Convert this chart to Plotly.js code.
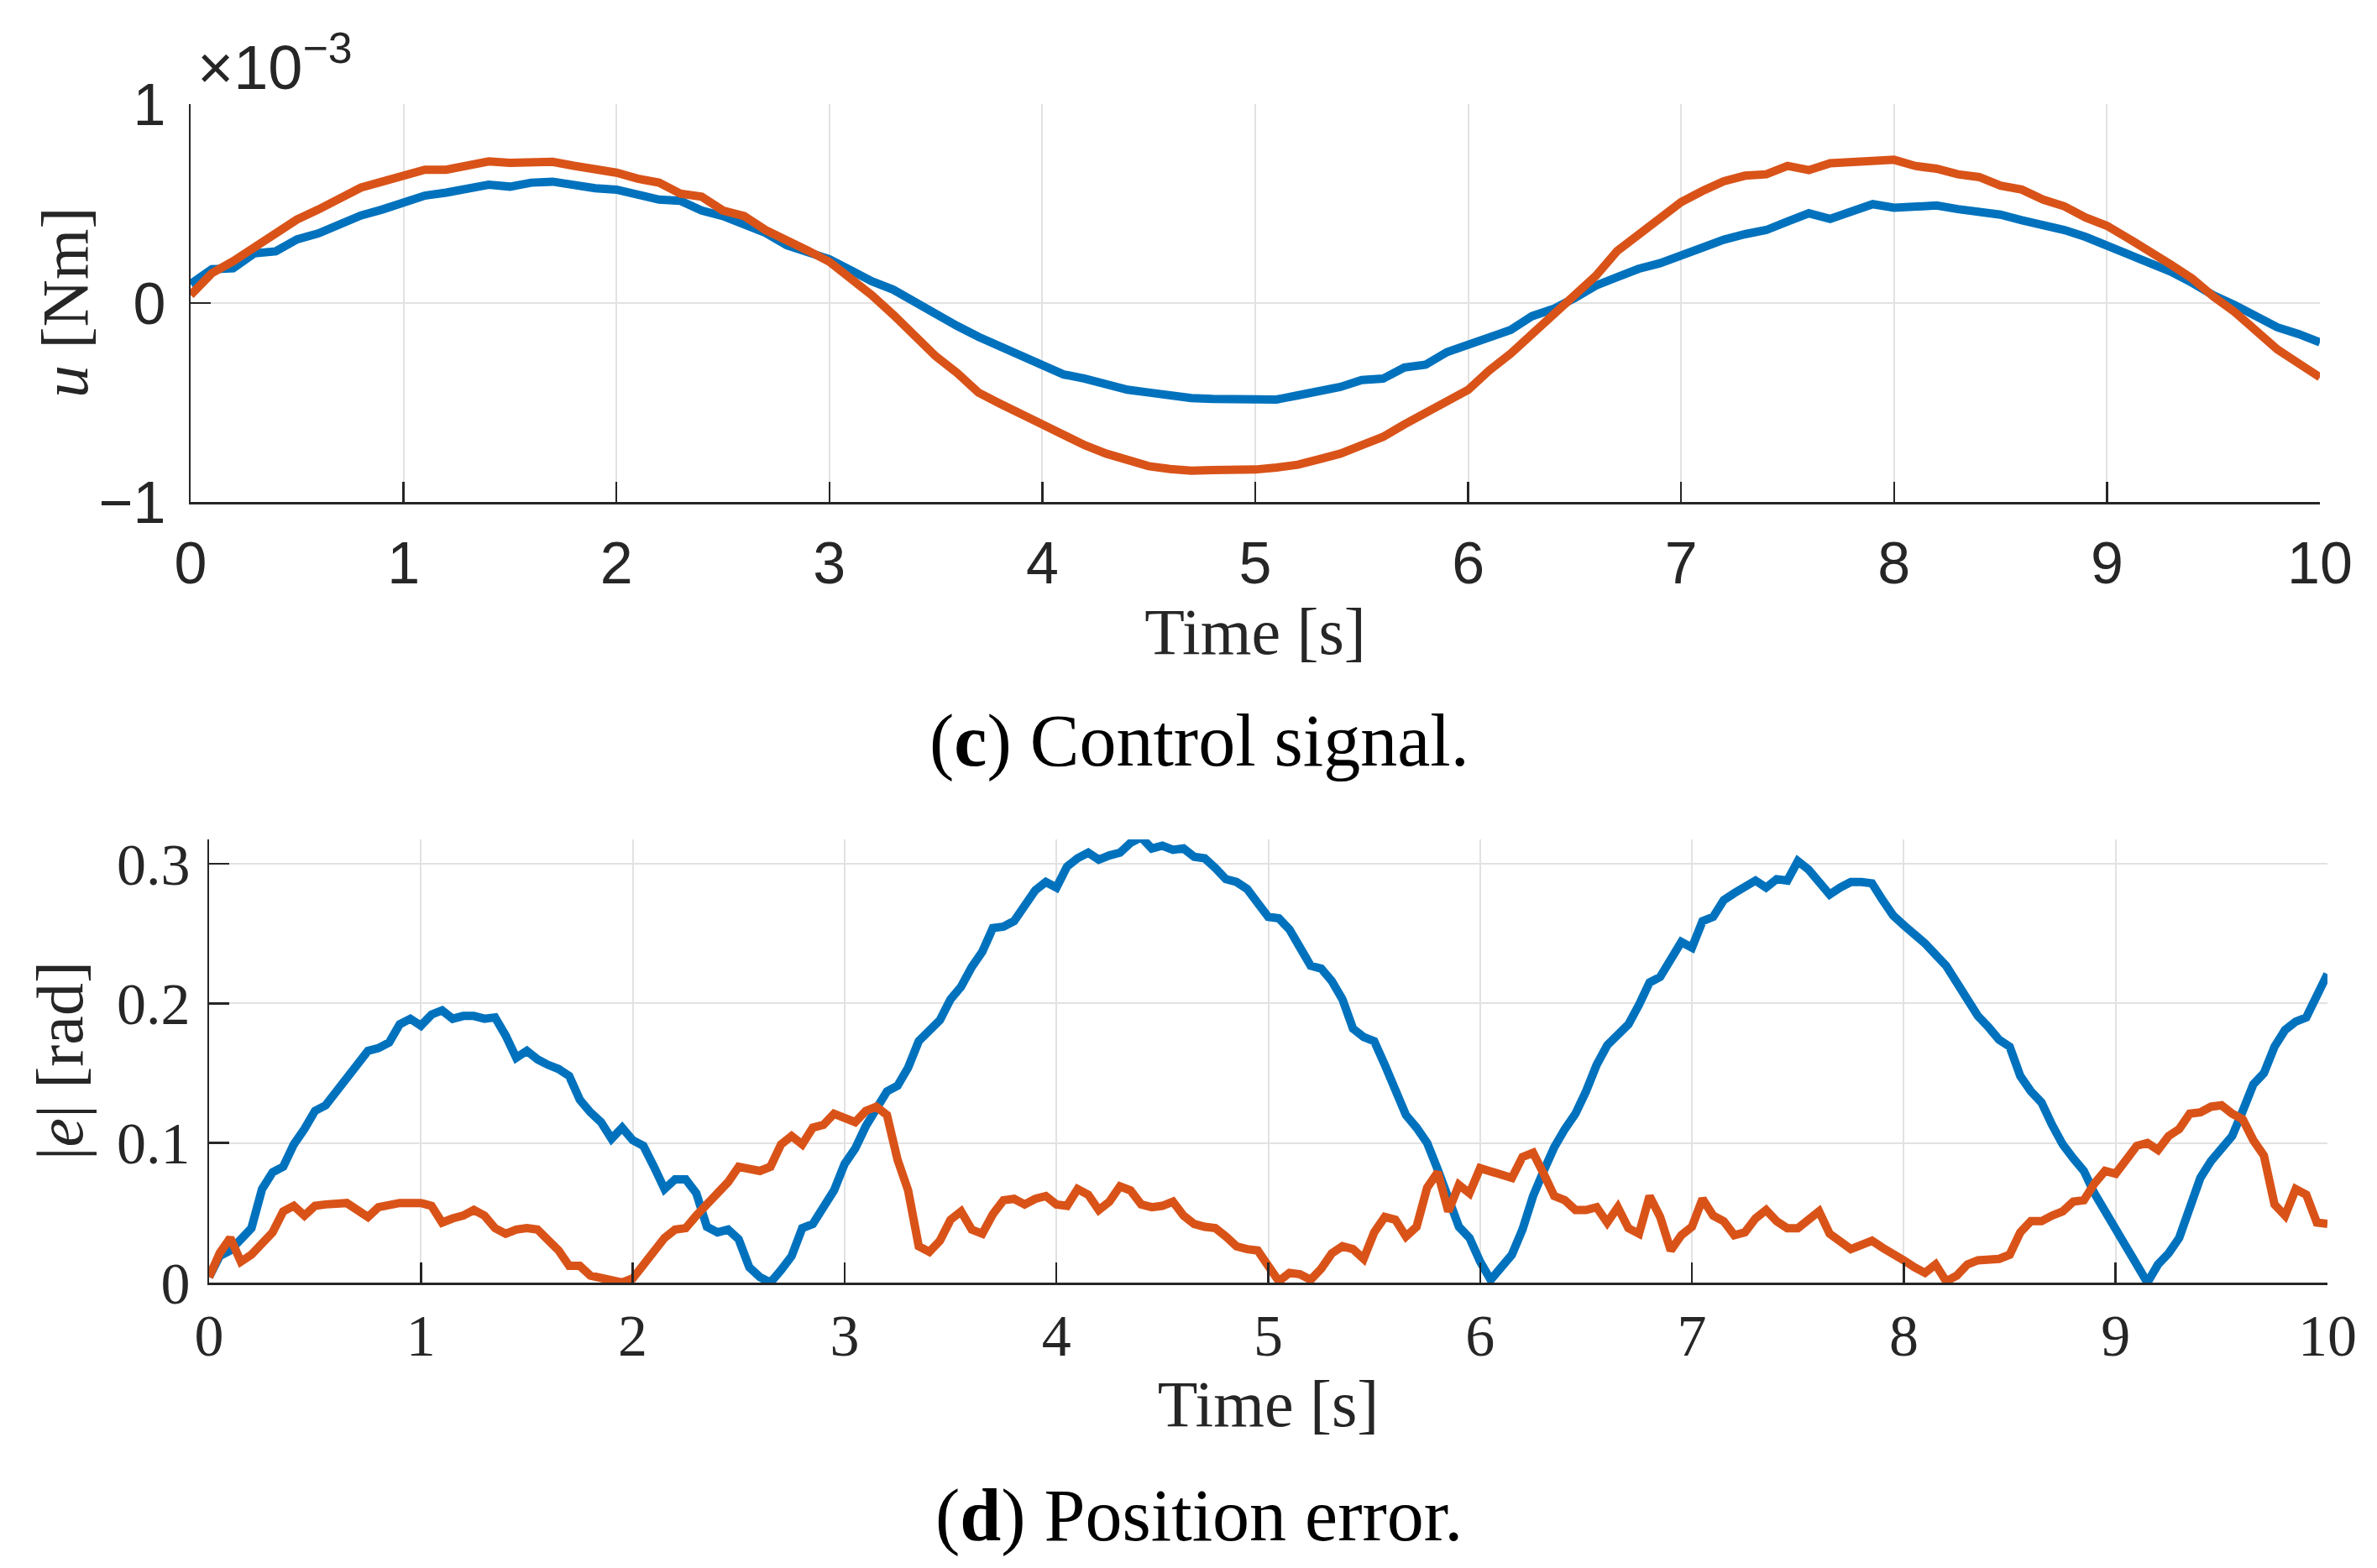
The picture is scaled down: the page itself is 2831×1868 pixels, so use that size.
<!DOCTYPE html>
<html>
<head>
<meta charset="utf-8">
<script src="https://cdn.plot.ly/plotly-3.0.1.min.js"></script>
<style>
  html, body { margin: 0; padding: 0; background: #fff; }
  #plot { width: 2831px; height: 1868px; }
</style>
</head>
<body>
<div id="plot"></div>
<script>
// ── Data ──────────────────────────────────────────────────────────────────────
// (c) control signal, u in units of 1e-3 Nm, sampled every 0.1 s
const tTop = [
  0,0.1,0.2,0.3,0.4,0.5,0.6,0.7,0.8,0.9,
  1,1.1,1.2,1.3,1.4,1.5,1.6,1.7,1.8,1.9,
  2,2.1,2.2,2.3,2.4,2.5,2.6,2.7,2.8,2.9,
  3,3.1,3.2,3.3,3.4,3.5,3.6,3.7,3.8,3.9,
  4,4.1,4.2,4.3,4.4,4.5,4.6,4.7,4.8,4.9,
  5,5.1,5.2,5.3,5.4,5.5,5.6,5.7,5.8,5.9,
  6,6.1,6.2,6.3,6.4,6.5,6.6,6.7,6.8,6.9,
  7,7.1,7.2,7.3,7.4,7.5,7.6,7.7,7.8,7.9,
  8,8.1,8.2,8.3,8.4,8.5,8.6,8.7,8.8,8.9,
  9,9.1,9.2,9.3,9.4,9.5,9.6,9.7,9.8,9.9,
  10
];
const uBlue = [
  0.095,0.17,0.175,0.25,0.26,0.32,0.35,0.395,0.44,0.47,
  0.51,0.54,0.555,0.577,0.595,0.585,0.605,0.61,0.59,0.577,
  0.57,0.55,0.52,0.514,0.465,0.437,0.39,0.353,0.29,0.255,
  0.22,0.165,0.109,0.067,0.004,-0.052,-0.115,-0.17,-0.22,-0.268,
  -0.31,-0.359,-0.38,-0.408,-0.436,-0.45,-0.466,-0.478,-0.482,-0.485,
  -0.478,-0.485,-0.464,-0.443,-0.422,-0.387,-0.38,-0.324,-0.31,-0.247,
  -0.212,-0.17,-0.135,-0.066,-0.03,0.025,0.088,0.13,0.172,0.2,
  0.242,0.277,0.318,0.346,0.367,0.41,0.451,0.423,0.465,0.497,
  0.479,0.486,0.49,0.472,0.455,0.444,0.416,0.395,0.367,0.332,
  0.29,0.249,0.2,0.158,0.102,0.039,-0.01,-0.066,-0.122,-0.156,
  -0.198
];
const uOrange = [
  0.04,0.15,0.21,0.28,0.36,0.42,0.47,0.53,0.58,0.61,
  0.64,0.67,0.67,0.695,0.712,0.705,0.71,0.71,0.69,0.675,
  0.655,0.625,0.605,0.55,0.535,0.465,0.437,0.367,0.318,0.263,
  0.207,0.123,0.039,-0.059,-0.17,-0.268,-0.352,-0.45,-0.505,-0.56,
  -0.61,-0.66,-0.715,-0.757,-0.79,-0.82,-0.834,-0.843,-0.84,-0.843,
  -0.837,-0.827,-0.813,-0.785,-0.757,-0.715,-0.673,-0.61,-0.555,-0.49,
  -0.436,-0.338,-0.254,-0.156,-0.059,0.039,0.137,0.262,0.34,0.43,
  0.507,0.563,0.612,0.64,0.647,0.689,0.668,0.703,0.71,0.716,
  0.72,0.689,0.675,0.647,0.633,0.59,0.57,0.52,0.486,0.43,
  0.388,0.325,0.263,0.193,0.123,0.032,-0.045,-0.142,-0.233,-0.303,
  -0.373
];

// (d) position error |e| in rad, sampled every 0.05 s
const tBot = [
  0,0.05,0.1,0.15,0.2,0.25,0.3,0.35,0.4,0.45,
  0.5,0.55,0.6,0.65,0.7,0.75,0.8,0.85,0.9,0.95,
  1,1.05,1.1,1.15,1.2,1.25,1.3,1.35,1.4,1.45,
  1.5,1.55,1.6,1.65,1.7,1.75,1.8,1.85,1.9,1.95,
  2,2.05,2.1,2.15,2.2,2.25,2.3,2.35,2.4,2.45,
  2.5,2.55,2.6,2.65,2.7,2.75,2.8,2.85,2.9,2.95,
  3,3.05,3.1,3.15,3.2,3.25,3.3,3.35,3.4,3.45,
  3.5,3.55,3.6,3.65,3.7,3.75,3.8,3.85,3.9,3.95,
  4,4.05,4.1,4.15,4.2,4.25,4.3,4.35,4.4,4.45,
  4.5,4.55,4.6,4.65,4.7,4.75,4.8,4.85,4.9,4.95,
  5,5.05,5.1,5.15,5.2,5.25,5.3,5.35,5.4,5.45,
  5.5,5.55,5.6,5.65,5.7,5.75,5.8,5.85,5.9,5.95,
  6,6.05,6.1,6.15,6.2,6.25,6.3,6.35,6.4,6.45,
  6.5,6.55,6.6,6.65,6.7,6.75,6.8,6.85,6.9,6.95,
  7,7.05,7.1,7.15,7.2,7.25,7.3,7.35,7.4,7.45,
  7.5,7.55,7.6,7.65,7.7,7.75,7.8,7.85,7.9,7.95,
  8,8.05,8.1,8.15,8.2,8.25,8.3,8.35,8.4,8.45,
  8.5,8.55,8.6,8.65,8.7,8.75,8.8,8.85,8.9,8.95,
  9,9.05,9.1,9.15,9.2,9.25,9.3,9.35,9.4,9.45,
  9.5,9.55,9.6,9.65,9.7,9.75,9.8,9.85,9.9,9.95,
  10
];
const eBlue = [
  0.004,0.019,0.023,0.030,0.039,0.067,0.079,0.083,0.099,0.110,
  0.123,0.127,0.137,0.145,0.156,0.166,0.168,0.172,0.185,0.189,
  0.184,0.192,0.195,0.189,0.191,0.191,0.189,0.190,0.177,0.161,
  0.166,0.160,0.156,0.153,0.148,0.131,0.122,0.115,0.103,0.111,
  0.102,0.098,0.083,0.067,0.074,0.074,0.064,0.040,0.036,0.038,
  0.031,0.011,0.004,0.000,0.009,0.019,0.039,0.042,0.054,0.066,
  0.085,0.096,0.112,0.124,0.137,0.141,0.154,0.173,0.180,0.188,
  0.203,0.212,0.226,0.237,0.254,0.255,0.259,0.271,0.281,0.287,
  0.283,0.298,0.304,0.308,0.303,0.306,0.308,0.315,0.319,0.311,
  0.313,0.310,0.311,0.305,0.304,0.297,0.289,0.287,0.282,0.272,
  0.262,0.261,0.253,0.240,0.227,0.225,0.216,0.203,0.182,0.176,
  0.173,0.156,0.137,0.120,0.111,0.100,0.081,0.060,0.040,0.032,
  0.015,0.002,0.012,0.020,0.038,0.062,0.080,0.097,0.110,0.121,
  0.137,0.156,0.170,0.177,0.185,0.199,0.215,0.219,0.233,0.244,
  0.240,0.259,0.262,0.274,0.279,0.283,0.288,0.283,0.289,0.288,
  0.302,0.296,0.287,0.278,0.283,0.287,0.287,0.286,0.274,0.263,
  0.256,0.250,0.243,0.235,0.227,0.215,0.203,0.191,0.183,0.174,
  0.169,0.148,0.137,0.129,0.113,0.099,0.089,0.080,0.064,0.051,
  0.040,0.027,0.012,0.000,0.013,0.021,0.032,0.056,0.075,0.087,
  0.095,0.105,0.123,0.142,0.150,0.169,0.181,0.187,0.190,0.207,
  0.221
];
const eOrange = [
  0.004,0.021,0.032,0.015,0.020,0.028,0.036,0.051,0.055,0.048,
  0.055,0.056,0.057,0.057,0.052,0.047,0.054,0.056,0.057,0.057,
  0.057,0.055,0.043,0.046,0.048,0.052,0.048,0.039,0.035,0.038,
  0.039,0.038,0.031,0.023,0.012,0.012,0.005,0.003,0.001,0.000,
  0.003,0.013,0.024,0.032,0.038,0.039,0.048,0.056,0.064,0.072,
  0.083,0.082,0.080,0.083,0.099,0.105,0.099,0.111,0.113,0.121,
  0.118,0.115,0.123,0.126,0.120,0.088,0.066,0.026,0.022,0.030,
  0.045,0.051,0.038,0.035,0.049,0.059,0.060,0.056,0.060,0.062,
  0.056,0.055,0.067,0.063,0.052,0.058,0.069,0.066,0.056,0.054,
  0.055,0.058,0.048,0.042,0.040,0.039,0.033,0.026,0.024,0.023,
  0.012,0.001,0.007,0.006,0.002,0.010,0.021,0.026,0.024,0.017,
  0.036,0.047,0.045,0.033,0.040,0.068,0.079,0.051,0.070,0.064,
  0.082,0.080,0.077,0.075,0.090,0.093,0.078,0.062,0.059,0.052,
  0.052,0.054,0.043,0.054,0.039,0.035,0.062,0.047,0.023,0.034,
  0.040,0.060,0.048,0.044,0.034,0.036,0.046,0.052,0.044,0.039,
  0.039,0.046,0.051,0.035,0.030,0.024,0.027,0.030,0.025,0.021,
  0.016,0.011,0.007,0.013,0.001,0.005,0.013,0.016,0.016,0.017,
  0.020,0.036,0.044,0.044,0.048,0.051,0.058,0.059,0.071,0.080,
  0.078,0.089,0.098,0.100,0.095,0.105,0.110,0.121,0.122,0.126,
  0.127,0.121,0.117,0.102,0.091,0.056,0.048,0.067,0.063,0.043,
  0.042
];

const xTicks = [0,1,2,3,4,5,6,7,8,9,10];
const uTicks = [-1, 0, 1];
const eTicks = [0, 0.1, 0.2, 0.3];

// ── Styling ───────────────────────────────────────────────────────────────────
const W = 2831, H = 1868;
const px = x => x / W;          // figure pixel → paper fraction
const py = y => 1 - y / H;

const BLUE   = '#0072BD';
const ORANGE = '#D95319';
const INK    = '#262626';
const GRID   = '#e2e2e2';
const SANS   = 'Liberation Sans, Arial, sans-serif';
const SERIF  = 'Liberation Serif, Times New Roman, serif';
const TITLE_FONT = { family: SERIF, size: 78, color: INK };

function axisStyle(font, size, standoff) {
  return {
    showline: true, linecolor: INK, linewidth: 2.5,
    ticks: 'inside', ticklen: 24, tickwidth: 2.5, tickcolor: INK,
    showgrid: true, gridcolor: GRID, gridwidth: 2,
    zeroline: false, fixedrange: true,
    tickfont: { family: font, size, color: INK },
    ticklabelstandoff: standoff,
  };
}

function line(x, y, color, xa, ya) {
  return {
    type: 'scatter', mode: 'lines', x, y, xaxis: xa, yaxis: ya,
    line: { color, width: 10 }, hoverinfo: 'skip', showlegend: false,
  };
}

// Rotated y-axis label placed next to its subplot.
function yLabel(text, x, y) {
  return {
    xref: 'paper', yref: 'paper', x: px(x), y: py(y),
    xanchor: 'center', yanchor: 'middle', showarrow: false,
    textangle: -90, text, font: TITLE_FONT,
  };
}

function caption(text, y) {
  return {
    xref: 'paper', yref: 'paper', x: px(1428), y: py(y),
    xanchor: 'center', yanchor: 'middle', showarrow: false,
    text, font: { family: SERIF, size: 88, color: '#000' },
  };
}

const traces = [
  line(tTop, uBlue,   BLUE,   'x',  'y'),
  line(tTop, uOrange, ORANGE, 'x',  'y'),
  line(tBot, eBlue,   BLUE,   'x2', 'y2'),
  line(tBot, eOrange, ORANGE, 'x2', 'y2'),
];

const layout = {
  width: W, height: H,
  margin: { l: 0, r: 0, t: 0, b: 0 },
  paper_bgcolor: '#fff', plot_bgcolor: '#fff',
  showlegend: false,

  // ── (c) Control signal ──
  xaxis: {
    ...axisStyle(SANS, 70, 10),
    domain: [px(227), px(2763)], anchor: 'y',
    range: [0, 10], tickvals: xTicks,
    title: { text: 'Time [s]', font: TITLE_FONT, standoff: 0 },
  },
  yaxis: {
    ...axisStyle(SANS, 70, 13),
    domain: [py(598), py(124)], anchor: 'x',
    range: [-1, 1], tickvals: uTicks,
  },

  // ── (d) Position error ──
  xaxis2: {
    ...axisStyle(SERIF, 70, 0),
    domain: [px(249), px(2772)], anchor: 'y2',
    range: [0, 10], tickvals: xTicks,
    title: { text: 'Time [s]', font: TITLE_FONT, standoff: 9 },
  },
  yaxis2: {
    ...axisStyle(SERIF, 70, 6),
    domain: [py(1528), py(1000)], anchor: 'x2',
    range: [0, 0.3175], tickvals: eTicks,
  },

  annotations: [
    {
      xref: 'paper', yref: 'paper', x: px(233), y: py(124),
      xanchor: 'left', yanchor: 'bottom', showarrow: false,
      text: '×10<sup>−3</sup>',
      font: { family: SANS, size: 74, color: INK },
    },
    yLabel('<i>u</i> [Nm]', 77, 361),
    yLabel('|<i>e</i>| [rad]', 71, 1264),
    caption('(<b>c</b>) Control signal.', 882),
    caption('(<b>d</b>) Position error.', 1805),
  ],
};

Plotly.newPlot('plot', traces, layout, { staticPlot: true, displayModeBar: false });
</script>
</body>
</html>
